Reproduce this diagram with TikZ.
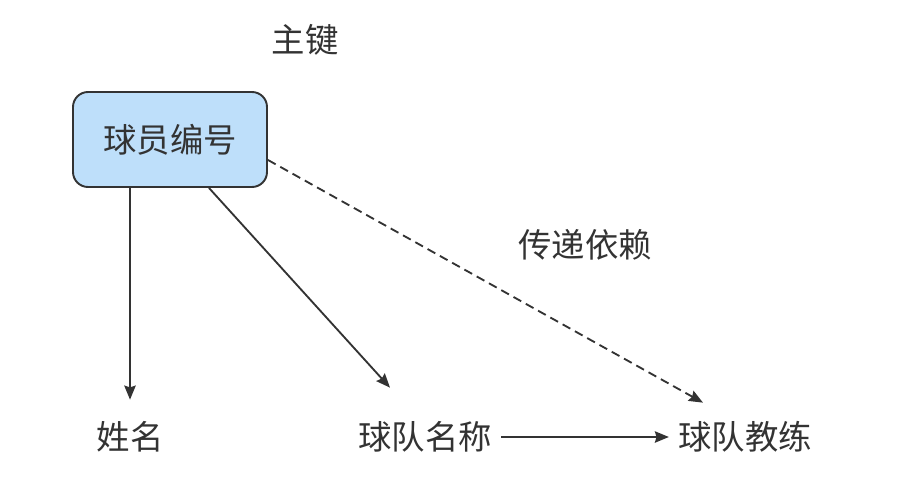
\documentclass[tikz,border=0pt]{standalone}
\usepackage{fontspec}
\setmainfont{Noto Sans CJK SC}
\usepackage{xcolor}
\usetikzlibrary{arrows.meta, positioning}
\definecolor{boxblue}{RGB}{190,223,250}
\definecolor{ink}{RGB}{51,51,51}

\begin{document}
\begin{tikzpicture}[
    keybox/.style={draw=ink, line width=1.1pt, fill=boxblue, rounded corners=0.3cm, minimum width=3.88cm, minimum height=1.9cm, align=center, text=ink, font=\fontsize{19}{23}\selectfont},
    attr/.style={inner ysep=0pt, inner xsep=0.18cm, minimum height=1.48cm, text=ink, font=\fontsize{19}{23}\selectfont},
    note/.style={text=ink, font=\fontsize{19}{23}\selectfont},
    edge/.style={-{Stealth[length=8pt, width=6.5pt, inset=1pt]}, draw=ink, line width=1.05pt},
    trans/.style={edge, dash pattern=on 5pt off 3pt}
]
    \useasboundingbox (0,0) rectangle (18.3,9.72);

    \node[keybox] (pid) at (3.4,6.93) {球员编号};
    \node[note] (key) at (6.1,8.92) {主键};

    \node[attr] (name) at (2.6,0.98) {姓名};
    \node[attr] (team) at (8.5,0.98) {球队名称};
    \node[attr] (coach) at (14.9,0.98) {球队教练};
    \node[note] (translabel) at (11.7,4.82) {传递依赖};

    \draw[edge] (name.north |- pid.south) -- (name.north);
    \draw[edge] ([xshift=0.78cm]pid.south) -- ([xshift=-0.7cm, yshift=0.24cm]team.north);
    \draw[edge] (team) -- (coach);

    % transitive dependency
    \draw[trans] ([yshift=-0.41cm]pid.east) -- ([xshift=-0.84cm, yshift=-0.06cm]coach.north);
\end{tikzpicture}
\end{document}
